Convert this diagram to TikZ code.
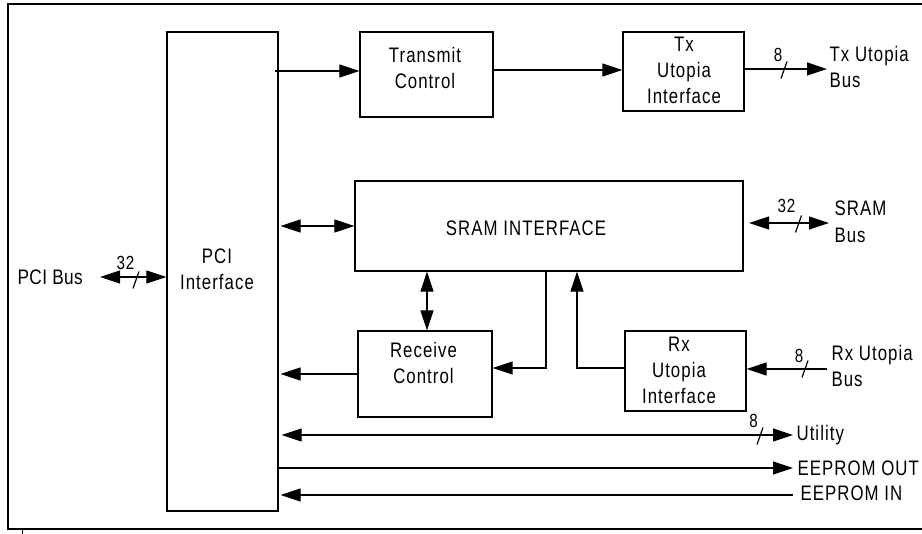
\documentclass[tikz,border=0pt]{standalone}
\usepackage{fontspec}
\setmainfont{Liberation Sans}[FakeStretch=0.8,LetterSpace=5]
\newfontfamily\bigsans{Liberation Sans}[FakeStretch=0.82,LetterSpace=2]
\usetikzlibrary{arrows.meta,calc}
\begin{document}
\begin{tikzpicture}[x=1pt,y=-1pt,line width=1.2pt,
  box/.style={draw,rectangle,inner sep=0pt,line width=1.3pt},
  lbl/.style={inner sep=0pt,align=center,font=\fontsize{21}{26}\selectfont},
  side/.style={inner sep=0pt,align=left,anchor=west,font=\fontsize{21}{26.5}\selectfont},
  num/.style={inner sep=0pt,font=\fontsize{19}{20}\selectfont},
  conn/.style={line width=1.2pt,-{Triangle[length=20pt,width=13pt]}},
  bi/.style={line width=1.2pt,{Triangle[length=20pt,width=13pt]}-{Triangle[length=20pt,width=13pt]}},
  slashmark/.style={line width=1.2pt}]
\useasboundingbox (0,0) rectangle (922,534);
% outer frame
\draw[line width=1.3pt] (925,4) -- (8,4) -- (8,529) -- (925,529);
\draw[line width=1pt] (22,530) -- (22,534);

% blocks
\node[box,minimum width=111pt,minimum height=479pt] (pci) at (222.5,271.5) {};
\node[lbl] (pcit) at (217,269) {PCI\\Interface};
\node[box,minimum width=133pt,minimum height=85pt] (tc) at (426.5,74.5) {};
\node[lbl] (tct) at (425,67.5) {Transmit\\Control};
\node[box,minimum width=121pt,minimum height=79pt] (txu) at (683.5,71.5) {};
\node[lbl] (txut) at (684,70) {Tx\\Utopia\\Interface};
\node[box,minimum width=388pt,minimum height=90pt] (sram) at (549,226) {};
\node[lbl] (sramt) at (526,228.5) {SRAM INTERFACE};
\node[box,minimum width=134pt,minimum height=86pt] (rc) at (425,374) {};
\node[lbl] (rct) at (423.5,362.5) {Receive\\Control};
\node[box,minimum width=121pt,minimum height=80pt] (rxu) at (685.5,371) {};
\node[lbl] (rxut) at (679,370) {Rx\\Utopia\\Interface};

% side labels
\node[side,font=\bigsans\fontsize{21}{25}\selectfont] (pcibus) at (17,277) {PCI Bus};
\node[side] (txbus) at (829,67) {Tx Utopia\\Bus};
\node[side] (srambus) at (834,222) {SRAM\\Bus};
\node[side] (rxbus) at (831,366) {Rx Utopia\\Bus};
\node[side] (util) at (796,435) {Utility};
\node[side] (eeo) at (797,468) {EEPROM OUT};
\node[side] (eei) at (800,493) {EEPROM IN};

% bus widths
\node[num] (n1) at (125.5,262.5) {32};
\node[num] (n2) at (778,55) {8};
\node[num] (n3) at (786.5,206) {32};
\node[num] (n4) at (799,356) {8};
\node[num] (n5) at (753.5,420.5) {8};

% level coordinates
\coordinate (yA) at (275,71);
\coordinate (yB) at (0,70);
\coordinate (txe) at (827,69);
\coordinate (pb) at (100,277);
\coordinate (sb1) at (749,223);
\coordinate (sb2) at (829,223);
\coordinate (xa) at (546,368);
\coordinate (xb) at (577,368);
\coordinate (rxb) at (827,369);
\coordinate (ut) at (793,435);
\coordinate (eo) at (793,468);
\coordinate (ei) at (793,495);

% connectors
\draw[conn] (yA) -- (yA -| tc.west);
\draw[conn] (tc.east |- yB) -- (txu.west |- yB);
\draw[conn] (txu.east |- txe) -- (txe);
\draw[bi] (pb) -- (pb -| pci.west);
\draw[bi] ([xshift=2pt]pci.east |- sram.west) -- (sram.west);
\draw[bi] (sb1) -- (sb2);
\draw[bi] ([xshift=2pt]rc.north |- sram.south) -- ([xshift=2pt]rc.north);
\draw[conn] (rc.west) -- ([xshift=2pt]rc.west -| pci.east);
\draw[conn] (sram.south -| xa) -- (xa) -- (xa -| rc.east);
\draw[conn] (xb -| rxu.west) -- (xb) -- (xb |- sram.south);
\draw[conn] (rxb) -- (rxb -| rxu.east);
\draw[bi] ([xshift=3pt]ut -| pci.east) -- (ut);
\draw[conn] (eo -| pci.east) -- (eo);
\draw[conn] (ei) -- ([xshift=2pt]ei -| pci.east);

% slash marks
\foreach \p in {(136,280),(784,70),(798.5,224),(805,369),(760,436)}
  \draw[slashmark] \p ++(-3,8.5) -- ++(6,-17);
\end{tikzpicture}
\end{document}
